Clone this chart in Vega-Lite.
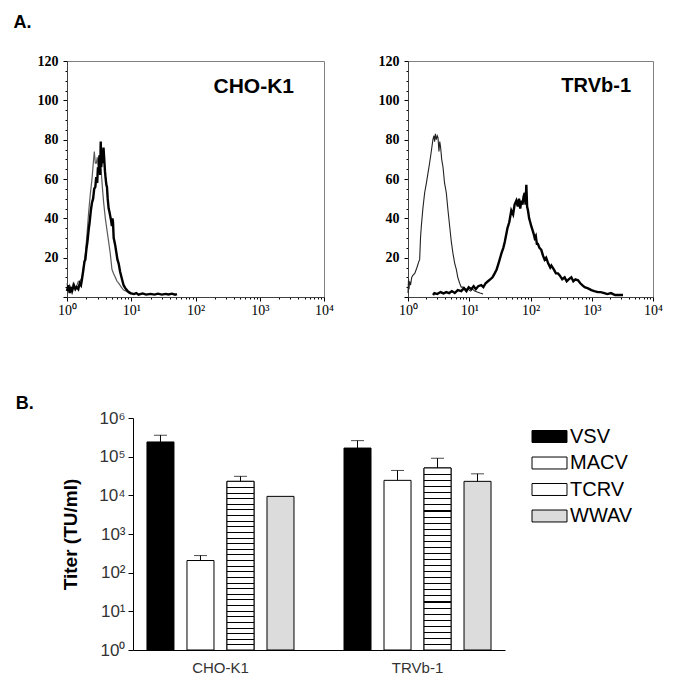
{
 "$schema": "https://vega.github.io/schema/vega-lite/v6.json",
 "padding": {"left": 13, "top": 13, "right": 5, "bottom": 5},
 "background": "white",
 "config": {
  "font": "Liberation Sans",
  "view": {"stroke": null},
  "axis": {"grid": false, "domainColor": "#000", "tickColor": "#000", "labelColor": "#000"}
 },
 "resolve": {"legend": {"color": "independent"}},
 "datasets": {
  "cho": [
   {"x":1.0,"y":3,"s":"thick"},{"x":1.05,"y":6,"s":"thick"},{"x":1.1,"y":2,"s":"thick"},{"x":1.15,"y":5,"s":"thick"},{"x":1.2,"y":3,"s":"thick"},{"x":1.28,"y":6,"s":"thick"},{"x":1.35,"y":4,"s":"thick"},{"x":1.42,"y":5,"s":"thick"},{"x":1.5,"y":4,"s":"thick"},{"x":1.58,"y":7,"s":"thick"},{"x":1.65,"y":6,"s":"thick"},{"x":1.71,"y":9,"s":"thick"},{"x":1.8,"y":14,"s":"thick"},{"x":1.87,"y":18,"s":"thick"},{"x":1.93,"y":19,"s":"thick"},{"x":2.0,"y":24,"s":"thick"},{"x":2.08,"y":28,"s":"thick"},{"x":2.17,"y":34,"s":"thick"},{"x":2.25,"y":38,"s":"thick"},{"x":2.35,"y":44,"s":"thick"},{"x":2.45,"y":48,"s":"thick"},{"x":2.55,"y":50,"s":"thick"},{"x":2.65,"y":55,"s":"thick"},{"x":2.76,"y":56,"s":"thick"},{"x":2.85,"y":61,"s":"thick"},{"x":2.95,"y":58,"s":"thick"},{"x":3.03,"y":66,"s":"thick"},{"x":3.11,"y":65,"s":"thick"},{"x":3.2,"y":72,"s":"thick"},{"x":3.28,"y":62,"s":"thick"},{"x":3.35,"y":79,"s":"thick"},{"x":3.42,"y":66,"s":"thick"},{"x":3.5,"y":73,"s":"thick"},{"x":3.59,"y":68,"s":"thick"},{"x":3.7,"y":76,"s":"thick"},{"x":3.8,"y":70,"s":"thick"},{"x":3.9,"y":64,"s":"thick"},{"x":4.0,"y":60,"s":"thick"},{"x":4.1,"y":57,"s":"thick"},{"x":4.19,"y":56,"s":"thick"},{"x":4.3,"y":50,"s":"thick"},{"x":4.45,"y":45,"s":"thick"},{"x":4.6,"y":43,"s":"thick"},{"x":4.72,"y":41,"s":"thick"},{"x":4.85,"y":39,"s":"thick"},{"x":5.0,"y":36,"s":"thick"},{"x":5.1,"y":40,"s":"thick"},{"x":5.2,"y":38,"s":"thick"},{"x":5.33,"y":30,"s":"thick"},{"x":5.5,"y":28,"s":"thick"},{"x":5.65,"y":26,"s":"thick"},{"x":5.9,"y":22,"s":"thick"},{"x":6.1,"y":19,"s":"thick"},{"x":6.37,"y":17,"s":"thick"},{"x":6.7,"y":13,"s":"thick"},{"x":7.18,"y":9,"s":"thick"},{"x":7.6,"y":6,"s":"thick"},{"x":8.08,"y":4.5,"s":"thick"},{"x":8.8,"y":3,"s":"thick"},{"x":9.67,"y":2,"s":"thick"},{"x":11,"y":1.5,"s":"thick"},{"x":12,"y":2,"s":"thick"},{"x":13,"y":1.2,"s":"thick"},{"x":15,"y":1.8,"s":"thick"},{"x":17,"y":1.2,"s":"thick"},{"x":20,"y":1.6,"s":"thick"},{"x":23,"y":1.2,"s":"thick"},{"x":26,"y":1.7,"s":"thick"},{"x":30,"y":1.2,"s":"thick"},{"x":34,"y":1.6,"s":"thick"},{"x":38,"y":1.3,"s":"thick"},{"x":43,"y":1.7,"s":"thick"},{"x":48,"y":1.2,"s":"thick"},{"x":51.5,"y":1.5,"s":"thick"},
   {"x":1.0,"y":7,"s":"thin"},{"x":1.05,"y":3,"s":"thin"},{"x":1.1,"y":6,"s":"thin"},{"x":1.18,"y":4,"s":"thin"},{"x":1.25,"y":7,"s":"thin"},{"x":1.33,"y":5,"s":"thin"},{"x":1.43,"y":6,"s":"thin"},{"x":1.5,"y":8,"s":"thin"},{"x":1.6,"y":8,"s":"thin"},{"x":1.71,"y":10,"s":"thin"},{"x":1.8,"y":15,"s":"thin"},{"x":1.93,"y":22,"s":"thin"},{"x":2.05,"y":32,"s":"thin"},{"x":2.17,"y":43,"s":"thin"},{"x":2.3,"y":52,"s":"thin"},{"x":2.45,"y":60,"s":"thin"},{"x":2.55,"y":67,"s":"thin"},{"x":2.66,"y":74,"s":"thin"},{"x":2.76,"y":68,"s":"thin"},{"x":2.86,"y":68,"s":"thin"},{"x":2.96,"y":71,"s":"thin"},{"x":3.05,"y":67,"s":"thin"},{"x":3.11,"y":69,"s":"thin"},{"x":3.25,"y":66,"s":"thin"},{"x":3.39,"y":65,"s":"thin"},{"x":3.55,"y":56,"s":"thin"},{"x":3.72,"y":48,"s":"thin"},{"x":3.95,"y":40,"s":"thin"},{"x":4.19,"y":34,"s":"thin"},{"x":4.45,"y":28,"s":"thin"},{"x":4.72,"y":22,"s":"thin"},{"x":5.01,"y":14,"s":"thin"},{"x":5.3,"y":12,"s":"thin"},{"x":5.65,"y":10,"s":"thin"},{"x":6.0,"y":8,"s":"thin"},{"x":6.37,"y":7,"s":"thin"},{"x":7.0,"y":5,"s":"thin"},{"x":7.6,"y":3.5,"s":"thin"},{"x":8.3,"y":3,"s":"thin"},{"x":9.1,"y":2,"s":"thin"},{"x":10,"y":1.5,"s":"thin"}
  ],
  "trv": [
   {"x":1.0,"y":2,"s":"thin"},{"x":1.02,"y":9,"s":"thin"},{"x":1.04,"y":4,"s":"thin"},{"x":1.06,"y":8,"s":"thin"},{"x":1.1,"y":6,"s":"thin"},{"x":1.15,"y":10,"s":"thin"},{"x":1.2,"y":11,"s":"thin"},{"x":1.29,"y":12,"s":"thin"},{"x":1.4,"y":15,"s":"thin"},{"x":1.5,"y":18,"s":"thin"},{"x":1.55,"y":19,"s":"thin"},{"x":1.6,"y":30,"s":"thin"},{"x":1.65,"y":36,"s":"thin"},{"x":1.75,"y":45,"s":"thin"},{"x":1.87,"y":53,"s":"thin"},{"x":2.0,"y":58,"s":"thin"},{"x":2.12,"y":63,"s":"thin"},{"x":2.25,"y":68,"s":"thin"},{"x":2.4,"y":74,"s":"thin"},{"x":2.55,"y":80,"s":"thin"},{"x":2.65,"y":82,"s":"thin"},{"x":2.72,"y":79,"s":"thin"},{"x":2.8,"y":83,"s":"thin"},{"x":2.9,"y":80,"s":"thin"},{"x":3.0,"y":82,"s":"thin"},{"x":3.09,"y":81,"s":"thin"},{"x":3.2,"y":74,"s":"thin"},{"x":3.3,"y":79,"s":"thin"},{"x":3.41,"y":76,"s":"thin"},{"x":3.55,"y":70,"s":"thin"},{"x":3.73,"y":66,"s":"thin"},{"x":3.95,"y":58,"s":"thin"},{"x":4.22,"y":53,"s":"thin"},{"x":4.5,"y":44,"s":"thin"},{"x":4.79,"y":36,"s":"thin"},{"x":5.1,"y":28,"s":"thin"},{"x":5.43,"y":22,"s":"thin"},{"x":5.8,"y":17,"s":"thin"},{"x":6.15,"y":14,"s":"thin"},{"x":6.5,"y":10,"s":"thin"},{"x":6.97,"y":7,"s":"thin"},{"x":7.4,"y":5,"s":"thin"},{"x":7.91,"y":5,"s":"thin"},{"x":8.7,"y":4,"s":"thin"},{"x":9.54,"y":4,"s":"thin"},{"x":10.5,"y":3,"s":"thin"},{"x":11.3,"y":4,"s":"thin"},{"x":12.3,"y":3,"s":"thin"},{"x":13.5,"y":2.5,"s":"thin"},{"x":15,"y":2,"s":"thin"},{"x":16.8,"y":1.5,"s":"thin"},
   {"x":2.56,"y":1,"s":"thick"},{"x":2.7,"y":2,"s":"thick"},{"x":3,"y":1.5,"s":"thick"},{"x":3.4,"y":2.5,"s":"thick"},{"x":3.8,"y":1.8,"s":"thick"},{"x":4.2,"y":2.5,"s":"thick"},{"x":4.7,"y":2,"s":"thick"},{"x":5.2,"y":3,"s":"thick"},{"x":5.8,"y":2,"s":"thick"},{"x":6.5,"y":3.5,"s":"thick"},{"x":7.4,"y":3,"s":"thick"},{"x":8.2,"y":4.5,"s":"thick"},{"x":9,"y":3,"s":"thick"},{"x":9.8,"y":5,"s":"thick"},{"x":10.8,"y":4,"s":"thick"},{"x":11.8,"y":5.5,"s":"thick"},{"x":12.8,"y":4,"s":"thick"},{"x":14,"y":5.5,"s":"thick"},{"x":15.7,"y":6,"s":"thick"},{"x":17,"y":5,"s":"thick"},{"x":18.5,"y":7,"s":"thick"},{"x":20.2,"y":8,"s":"thick"},{"x":22,"y":9,"s":"thick"},{"x":24,"y":10,"s":"thick"},{"x":26,"y":12,"s":"thick"},{"x":28,"y":14,"s":"thick"},{"x":30,"y":17,"s":"thick"},{"x":33.4,"y":22,"s":"thick"},{"x":36,"y":25,"s":"thick"},{"x":38,"y":28,"s":"thick"},{"x":40.3,"y":32,"s":"thick"},{"x":42,"y":35,"s":"thick"},{"x":45,"y":38,"s":"thick"},{"x":48.6,"y":44,"s":"thick"},{"x":52,"y":42,"s":"thick"},{"x":55,"y":47,"s":"thick"},{"x":58.7,"y":49,"s":"thick"},{"x":62,"y":46,"s":"thick"},{"x":65,"y":50,"s":"thick"},{"x":68,"y":45,"s":"thick"},{"x":70.8,"y":49,"s":"thick"},{"x":74,"y":47,"s":"thick"},{"x":77,"y":51,"s":"thick"},{"x":80.4,"y":53,"s":"thick"},{"x":83,"y":47,"s":"thick"},{"x":85.5,"y":57,"s":"thick"},{"x":88,"y":46,"s":"thick"},{"x":91,"y":44,"s":"thick"},{"x":95,"y":40,"s":"thick"},{"x":99,"y":38,"s":"thick"},{"x":103,"y":36,"s":"thick"},{"x":108,"y":34,"s":"thick"},{"x":113,"y":32,"s":"thick"},{"x":117,"y":30,"s":"thick"},{"x":122,"y":31,"s":"thick"},{"x":127,"y":27,"s":"thick"},{"x":132,"y":27,"s":"thick"},{"x":140,"y":25,"s":"thick"},{"x":150,"y":24,"s":"thick"},{"x":160,"y":21,"s":"thick"},{"x":170,"y":19,"s":"thick"},{"x":180,"y":20,"s":"thick"},{"x":195,"y":17,"s":"thick"},{"x":210,"y":15,"s":"thick"},{"x":219,"y":16,"s":"thick"},{"x":240,"y":14,"s":"thick"},{"x":260,"y":12,"s":"thick"},{"x":281,"y":12,"s":"thick"},{"x":300,"y":11,"s":"thick"},{"x":330,"y":9,"s":"thick"},{"x":361,"y":10,"s":"thick"},{"x":390,"y":8,"s":"thick"},{"x":420,"y":9,"s":"thick"},{"x":464,"y":10,"s":"thick"},{"x":500,"y":8,"s":"thick"},{"x":540,"y":9,"s":"thick"},{"x":597,"y":8.5,"s":"thick"},{"x":650,"y":7,"s":"thick"},{"x":700,"y":6,"s":"thick"},{"x":766,"y":5,"s":"thick"},{"x":850,"y":4.5,"s":"thick"},{"x":920,"y":4,"s":"thick"},{"x":984,"y":3.5,"s":"thick"},{"x":1100,"y":3,"s":"thick"},{"x":1260,"y":2.5,"s":"thick"},{"x":1400,"y":2.5,"s":"thick"},{"x":1600,"y":2,"s":"thick"},{"x":1800,"y":1.5,"s":"thick"},{"x":2060,"y":2,"s":"thick"},{"x":2400,"y":1,"s":"thick"},{"x":2800,"y":1,"s":"thick"},{"x":3240,"y":1,"s":"thick"}
  ],
  "titers": [
   {"cell":"CHO-K1","virus":"VSV","titer":240000,"upper":360000},
   {"cell":"CHO-K1","virus":"MACV","titer":206,"upper":277},
   {"cell":"CHO-K1","virus":"TCRV","titer":23000,"upper":31000},
   {"cell":"CHO-K1","virus":"WWAV","titer":9400,"upper":null},
   {"cell":"TRVb-1","virus":"VSV","titer":167000,"upper":260000},
   {"cell":"TRVb-1","virus":"MACV","titer":24400,"upper":44000},
   {"cell":"TRVb-1","virus":"TCRV","titer":51000,"upper":91000},
   {"cell":"TRVb-1","virus":"WWAV","titer":23000,"upper":36000}
  ]
 },
 "spacing": 77,
 "vconcat": [
  {
   "title": {"text": "A.", "anchor": "start", "fontSize": 18, "fontWeight": "bold", "font": "Liberation Sans", "dx": -23, "offset": 22},
   "spacing": 43,
   "hconcat": [
    {
     "width": 257, "height": 236,
     "view": {"stroke": "#808080"},
     "title": {"text": "CHO-K1", "anchor": "end", "frame": "group", "fontSize": 21, "fontWeight": "bold", "font": "Liberation Sans", "color": "#000", "dx": -30, "offset": -43},
     "data": {"name": "cho"},
     "encoding": {
      "x": {"field": "x", "type": "quantitative", "title": null,
            "scale": {"type": "log", "domain": [1, 10000], "nice": false},
            "axis": {"values": [1,2,3,4,5,6,7,8,9,10,20,30,40,50,60,70,80,90,100,200,300,400,500,600,700,800,900,1000,2000,3000,4000,5000,6000,7000,8000,9000,10000],
                     "labelExpr": "datum.value == 1 ? '10⁰' : datum.value == 10 ? '10¹' : datum.value == 100 ? '10²' : datum.value == 1000 ? '10³' : datum.value == 10000 ? '10⁴' : ''",
                     "labelFont": "Liberation Serif", "labelFontSize": 14, "labelOverlap": false, "labelFlush": false,
                     "tickSize": {"condition": {"test": "indexof([1,10,100,1000,10000], datum.value) >= 0", "value": 4}, "value": 2},
                     "labelPadding": 2, "domainColor": "#404040"}},
      "y": {"field": "y", "type": "quantitative", "title": null,
            "scale": {"domain": [0, 120], "nice": false},
            "axis": {"values": [0,5,10,15,20,25,30,35,40,45,50,55,60,65,70,75,80,85,90,95,100,105,110,115,120],
                     "labelExpr": "datum.value % 20 === 0 && datum.value > 0 ? datum.label : ''",
                     "labelFont": "Liberation Serif", "labelFontWeight": "bold", "labelFontSize": 14, "labelOverlap": false,
                     "tickSize": {"condition": {"test": "datum.value % 20 === 0", "value": 4}, "value": 2},
                     "labelPadding": 5, "domainColor": "#404040"}}
     },
     "layer": [
      {"transform": [{"filter": "datum.s === 'thin'"}], "mark": {"type": "line", "color": "#5a5a5a", "strokeWidth": 1.2}},
      {"transform": [{"filter": "datum.s === 'thick'"}], "mark": {"type": "line", "color": "#000", "strokeWidth": 2.4}}
     ]
    },
    {
     "width": 245, "height": 236,
     "view": {"stroke": "#808080"},
     "title": {"text": "TRVb-1", "anchor": "end", "frame": "group", "fontSize": 20, "fontWeight": "bold", "font": "Liberation Sans", "color": "#000", "dx": -22, "offset": -42},
     "data": {"name": "trv"},
     "encoding": {
      "x": {"field": "x", "type": "quantitative", "title": null,
            "scale": {"type": "log", "domain": [1, 10000], "nice": false},
            "axis": {"values": [1,2,3,4,5,6,7,8,9,10,20,30,40,50,60,70,80,90,100,200,300,400,500,600,700,800,900,1000,2000,3000,4000,5000,6000,7000,8000,9000,10000],
                     "labelExpr": "datum.value == 1 ? '10⁰' : datum.value == 10 ? '10¹' : datum.value == 100 ? '10²' : datum.value == 1000 ? '10³' : datum.value == 10000 ? '10⁴' : ''",
                     "labelFont": "Liberation Serif", "labelFontSize": 14, "labelOverlap": false, "labelFlush": false,
                     "tickSize": {"condition": {"test": "indexof([1,10,100,1000,10000], datum.value) >= 0", "value": 4}, "value": 2},
                     "labelPadding": 2, "domainColor": "#404040"}},
      "y": {"field": "y", "type": "quantitative", "title": null,
            "scale": {"domain": [0, 120], "nice": false},
            "axis": {"values": [0,5,10,15,20,25,30,35,40,45,50,55,60,65,70,75,80,85,90,95,100,105,110,115,120],
                     "labelExpr": "datum.value % 20 === 0 && datum.value > 0 ? datum.label : ''",
                     "labelFont": "Liberation Serif", "labelFontWeight": "bold", "labelFontSize": 14, "labelOverlap": false,
                     "tickSize": {"condition": {"test": "datum.value % 20 === 0", "value": 4}, "value": 2},
                     "labelPadding": 5, "domainColor": "#404040"}}
     },
     "layer": [
      {"transform": [{"filter": "datum.s === 'thin'"}], "mark": {"type": "line", "color": "#222", "strokeWidth": 1.1}},
      {"transform": [{"filter": "datum.s === 'thick'"}], "mark": {"type": "line", "color": "#000", "strokeWidth": 2.4}}
     ]
    }
   ]
  },
  {
   "title": {"text": "B.", "anchor": "start", "fontSize": 18, "fontWeight": "bold", "font": "Liberation Sans", "dx": -46, "offset": -4},
   "spacing": -7,
   "resolve": {"legend": {"color": "independent"}},
   "hconcat": [
    {"width": 1, "height": 10, "data": {"values": []}, "mark": "point"},
    {
     "width": 372, "height": 232,
     "data": {"name": "titers"},
     "encoding": {
      "x": {"field": "cell", "type": "nominal", "title": null,
            "scale": {"paddingInner": 0.2, "paddingOuter": 0.044},
            "axis": {"labelAngle": 0, "ticks": false, "labelFontSize": 15, "labelColor": "#333", "labelPadding": 10, "domainColor": "#000"}},
      "xOffset": {"field": "virus", "type": "nominal", "sort": ["VSV","MACV","TCRV","WWAV"],
                  "scale": {"paddingInner": 0.325, "paddingOuter": 0.1325}}
     },
     "layer": [
      {"mark": {"type": "bar", "stroke": "#000", "strokeWidth": 1},
       "encoding": {
        "y": {"field": "titer", "type": "quantitative", "title": "Titer (TU/ml)",
              "scale": {"type": "log", "domain": [1, 1000000], "nice": false},
              "axis": {"values": [1,10,100,1000,10000,100000,1000000],
                       "labelExpr": "'10' + ['⁰','¹','²','³','⁴','⁵','⁶'][round(log(datum.value)/LN10)]",
                       "labelFontSize": 17, "labelColor": "#333", "tickSize": 5, "labelPadding": 3,
                       "titleFontSize": 19, "titleFontWeight": "bold", "titlePadding": 18, "titleColor": "#000", "domainColor": "#000"}},
        "y2": {"datum": 1},
        "color": {"field": "virus", "type": "nominal", "sort": ["VSV","MACV","TCRV","WWAV"],
                  "scale": {"domain": ["VSV","MACV","TCRV","WWAV"], "range": ["#000000","#ffffff","#ffffff","#dcdcdc"]},
                  "legend": {"title": null, "orient": "right", "offset": 26, "padding": 5,
                             "symbolType": "M-1.346,-0.46H1.346V0.46H-1.346Z", "symbolSize": 676,
                             "symbolStrokeWidth": 1, "symbolOpacity": 1,
                             "labelFontSize": 20, "labelOffset": 7, "labelColor": "#000", "rowPadding": 2.5,
                             "encode": {"symbols": {
                               "shape": {"condition": {"test": "datum.value === 'TCRV'", "value": "M-1.346,-0.46H1.346V0.46H-1.346ZM-1.346,0H1.346"},
                                         "value": "M-1.346,-0.46H1.346V0.46H-1.346Z"},
                               "stroke": {"value": "#000000"},
                               "strokeWidth": {"value": 1}}}}}
       }},
      {"transform": [{"filter": "datum.virus === 'TCRV'"}],
       "mark": {"type": "bar", "stroke": "#000", "strokeWidth": 1,
                "fill": {"gradient": "linear", "x1": 0, "y1": 0, "x2": 0, "y2": 1, "stops": [
                 {"offset":0,"color":"#fff"},
                 {"offset":0.0333,"color":"#fff"},{"offset":0.0333,"color":"#000"},{"offset":0.0393,"color":"#000"},{"offset":0.0393,"color":"#fff"},
                 {"offset":0.0667,"color":"#fff"},{"offset":0.0667,"color":"#000"},{"offset":0.0727,"color":"#000"},{"offset":0.0727,"color":"#fff"},
                 {"offset":0.1,"color":"#fff"},{"offset":0.1,"color":"#000"},{"offset":0.106,"color":"#000"},{"offset":0.106,"color":"#fff"},
                 {"offset":0.1333,"color":"#fff"},{"offset":0.1333,"color":"#000"},{"offset":0.1393,"color":"#000"},{"offset":0.1393,"color":"#fff"},
                 {"offset":0.1667,"color":"#fff"},{"offset":0.1667,"color":"#000"},{"offset":0.1727,"color":"#000"},{"offset":0.1727,"color":"#fff"},
                 {"offset":0.2,"color":"#fff"},{"offset":0.2,"color":"#000"},{"offset":0.206,"color":"#000"},{"offset":0.206,"color":"#fff"},
                 {"offset":0.2333,"color":"#fff"},{"offset":0.2333,"color":"#000"},{"offset":0.2393,"color":"#000"},{"offset":0.2393,"color":"#fff"},
                 {"offset":0.2667,"color":"#fff"},{"offset":0.2667,"color":"#000"},{"offset":0.2727,"color":"#000"},{"offset":0.2727,"color":"#fff"},
                 {"offset":0.3,"color":"#fff"},{"offset":0.3,"color":"#000"},{"offset":0.306,"color":"#000"},{"offset":0.306,"color":"#fff"},
                 {"offset":0.3333,"color":"#fff"},{"offset":0.3333,"color":"#000"},{"offset":0.3393,"color":"#000"},{"offset":0.3393,"color":"#fff"},
                 {"offset":0.3667,"color":"#fff"},{"offset":0.3667,"color":"#000"},{"offset":0.3727,"color":"#000"},{"offset":0.3727,"color":"#fff"},
                 {"offset":0.4,"color":"#fff"},{"offset":0.4,"color":"#000"},{"offset":0.406,"color":"#000"},{"offset":0.406,"color":"#fff"},
                 {"offset":0.4333,"color":"#fff"},{"offset":0.4333,"color":"#000"},{"offset":0.4393,"color":"#000"},{"offset":0.4393,"color":"#fff"},
                 {"offset":0.4667,"color":"#fff"},{"offset":0.4667,"color":"#000"},{"offset":0.4727,"color":"#000"},{"offset":0.4727,"color":"#fff"},
                 {"offset":0.5,"color":"#fff"},{"offset":0.5,"color":"#000"},{"offset":0.506,"color":"#000"},{"offset":0.506,"color":"#fff"},
                 {"offset":0.5333,"color":"#fff"},{"offset":0.5333,"color":"#000"},{"offset":0.5393,"color":"#000"},{"offset":0.5393,"color":"#fff"},
                 {"offset":0.5667,"color":"#fff"},{"offset":0.5667,"color":"#000"},{"offset":0.5727,"color":"#000"},{"offset":0.5727,"color":"#fff"},
                 {"offset":0.6,"color":"#fff"},{"offset":0.6,"color":"#000"},{"offset":0.606,"color":"#000"},{"offset":0.606,"color":"#fff"},
                 {"offset":0.6333,"color":"#fff"},{"offset":0.6333,"color":"#000"},{"offset":0.6393,"color":"#000"},{"offset":0.6393,"color":"#fff"},
                 {"offset":0.6667,"color":"#fff"},{"offset":0.6667,"color":"#000"},{"offset":0.6727,"color":"#000"},{"offset":0.6727,"color":"#fff"},
                 {"offset":0.7,"color":"#fff"},{"offset":0.7,"color":"#000"},{"offset":0.706,"color":"#000"},{"offset":0.706,"color":"#fff"},
                 {"offset":0.7333,"color":"#fff"},{"offset":0.7333,"color":"#000"},{"offset":0.7393,"color":"#000"},{"offset":0.7393,"color":"#fff"},
                 {"offset":0.7667,"color":"#fff"},{"offset":0.7667,"color":"#000"},{"offset":0.7727,"color":"#000"},{"offset":0.7727,"color":"#fff"},
                 {"offset":0.8,"color":"#fff"},{"offset":0.8,"color":"#000"},{"offset":0.806,"color":"#000"},{"offset":0.806,"color":"#fff"},
                 {"offset":0.8333,"color":"#fff"},{"offset":0.8333,"color":"#000"},{"offset":0.8393,"color":"#000"},{"offset":0.8393,"color":"#fff"},
                 {"offset":0.8667,"color":"#fff"},{"offset":0.8667,"color":"#000"},{"offset":0.8727,"color":"#000"},{"offset":0.8727,"color":"#fff"},
                 {"offset":0.9,"color":"#fff"},{"offset":0.9,"color":"#000"},{"offset":0.906,"color":"#000"},{"offset":0.906,"color":"#fff"},
                 {"offset":0.9333,"color":"#fff"},{"offset":0.9333,"color":"#000"},{"offset":0.9393,"color":"#000"},{"offset":0.9393,"color":"#fff"},
                 {"offset":0.9667,"color":"#fff"},{"offset":0.9667,"color":"#000"},{"offset":0.9727,"color":"#000"},{"offset":0.9727,"color":"#fff"},
                 {"offset":1,"color":"#fff"}]}},
       "encoding": {"y": {"field": "titer", "type": "quantitative"}, "y2": {"datum": 1}}},
      {"transform": [{"filter": "datum.upper != null"}],
       "mark": {"type": "rule", "color": "#000", "strokeWidth": 1},
       "encoding": {"y": {"field": "titer", "type": "quantitative"}, "y2": {"field": "upper"}}},
      {"transform": [{"filter": "datum.upper != null"}],
       "mark": {"type": "tick", "color": "#000", "thickness": 1, "size": 13},
       "encoding": {"y": {"field": "upper", "type": "quantitative"}}}
     ]
    }
   ]
  }
 ]
}
